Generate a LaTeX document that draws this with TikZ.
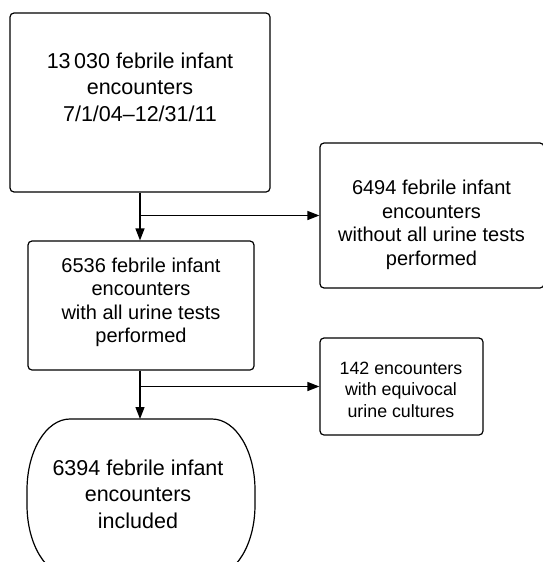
\documentclass[tikz,border=0pt]{standalone}
\usepackage{fontspec}
\setmainfont{Liberation Sans}
\usetikzlibrary{arrows.meta}
\tikzset{
  x=1pt, y=1pt,
  boxshape/.style={draw, line width=1.2pt, rounded corners=4pt, inner sep=0pt},
  txt/.style={align=center, inner sep=0pt},
  conn/.style={line width=1.3pt},
  arr/.style={conn, -{Triangle[length=12pt,width=9pt]}},
  bigfont/.style={font=\fontsize{21.5}{26.5}\selectfont},
  midfont/.style={font=\fontsize{20}{23.5}\selectfont},
  smallfont/.style={font=\fontsize{17.8}{21.5}\selectfont}
}
\begin{document}
\begin{tikzpicture}
\useasboundingbox (0,0) rectangle (542,-562);
% boxes
\node[boxshape, minimum width=260pt, minimum height=179pt] (b1) at (140,-102.5) {};
\node[txt, bigfont] (t1) at (140,-87) {13\,030 febrile infant\\encounters\\7/1/04–12/31/11};
\node[boxshape, minimum width=226pt, minimum height=129pt] (b2) at (141,-305.5) {};
\node[txt, midfont] (t2) at (141,-302.5) {6536 febrile infant\\encounters\\with all urine tests\\performed};
\node[boxshape, minimum width=224pt, minimum height=145pt] (r1) at (432,-215.5) {};
\node[txt, midfont] (t3) at (431.5,-225) {6494 febrile infant\\encounters\\without all urine tests\\performed};
\node[boxshape, minimum width=163pt, minimum height=97pt] (r2) at (401.5,-386.5) {};
\node[txt, smallfont] (t4) at (401,-389.5) {142 encounters\\with equivocal\\urine cultures};
% terminal shape
\draw[line width=1.2pt] (70,-419) -- (212,-419)
  arc[start angle=90, end angle=0, x radius=43, y radius=71] -- (255,-505)
  arc[start angle=0, end angle=-90, x radius=43, y radius=71] -- (70,-576)
  arc[start angle=-90, end angle=-180, x radius=43, y radius=71] -- (27,-490)
  arc[start angle=180, end angle=90, x radius=43, y radius=71] -- cycle;
\coordinate (etop) at (140,-419);
\node[txt, bigfont] (t5) at (138,-494) {6394 febrile infant\\encounters\\included};
% connectors
\coordinate (j1) at (140,-215.5);
\coordinate (j2) at (140,-386.5);
\draw[arr] (b1.south -| j1) -- (j1 |- b2.north);
\draw[arr] (j1) -- (j1 -| r1.west);
\draw[arr] (b2.south -| j2) -- (etop);
\draw[arr] (j2) -- (j2 -| r2.west);
\end{tikzpicture}
\end{document}
